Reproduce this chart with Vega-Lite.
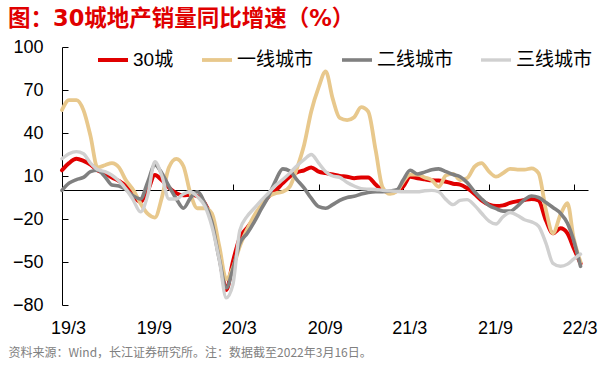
{
  "$schema": "https://vega.github.io/schema/vega-lite/v6.json",
  "width": 526,
  "height": 258,
  "autosize": "none",
  "padding": {"left": 62, "top": 47, "right": 24, "bottom": 64},
  "background": "white",
  "title": {
    "text": "图：30城地产销量同比增速（%）",
    "anchor": "start",
    "frame": "group",
    "dx": -54,
    "offset": 8,
    "fontSize": 22.5,
    "font": "DejaVu Sans, Noto Sans CJK SC",
    "fontWeight": "bold",
    "color": "#E00000"
  },
  "config": {"view": {"stroke": null}},
  "data": {
    "values": [
      {"d": "2019-03-01", "30城": 14, "一线城市": 56, "二线城市": 0, "三线城市": 22},
      {"d": "2019-03-16", "30城": 19, "一线城市": 63, "二线城市": 5, "三线城市": 25.5},
      {"d": "2019-04-01", "30城": 22, "一线城市": 63, "二线城市": 7.5, "三线城市": 27},
      {"d": "2019-04-16", "30城": 20.5, "一线城市": 56, "二线城市": 9, "三线城市": 25.5},
      {"d": "2019-05-01", "30城": 18, "一线城市": 38, "二线城市": 13, "三线城市": 19},
      {"d": "2019-05-16", "30城": 14, "一线城市": 16, "二线城市": 14, "三线城市": 14.5},
      {"d": "2019-06-01", "30城": 12, "一线城市": 17.5, "二线城市": 9.5, "三线城市": 13},
      {"d": "2019-06-16", "30城": 9, "一线城市": 19, "二线城市": 3.7, "三线城市": 10.5},
      {"d": "2019-07-01", "30城": 6.5, "一线城市": 16, "二线城市": 3, "三线城市": 6.5},
      {"d": "2019-07-16", "30城": 3, "一线城市": 7, "二线城市": 0.5, "三线城市": 1},
      {"d": "2019-08-01", "30城": -4, "一线城市": 0, "二线城市": -4, "三线城市": -7},
      {"d": "2019-08-16", "30城": -8, "一线城市": -9, "二线城市": -6, "三线城市": -15},
      {"d": "2019-09-01", "30城": 0, "一线城市": -16.5, "二线城市": 6, "三线城市": -3},
      {"d": "2019-09-16", "30城": 10.7, "一线城市": -19, "二线城市": 17.7, "三线城市": 20},
      {"d": "2019-10-01", "30城": 7, "一线城市": -5, "二线城市": 12, "三线城市": 10},
      {"d": "2019-10-16", "30城": 2, "一线城市": 16, "二线城市": 3, "三线城市": -6},
      {"d": "2019-11-01", "30城": -2, "一线城市": 22, "二线城市": -6, "三线城市": -6},
      {"d": "2019-11-16", "30城": -3.5, "一线城市": 17, "二线城市": -12.5, "三线城市": -2.5},
      {"d": "2019-12-01", "30城": -3, "一线城市": -2, "二线城市": -5.5, "三线城市": -1},
      {"d": "2019-12-16", "30城": -4, "一线城市": -12.5, "二线城市": -1, "三线城市": -4.4},
      {"d": "2020-01-01", "30城": -9, "一线城市": -12.5, "二线城市": -9, "三线城市": -11},
      {"d": "2020-01-16", "30城": -20, "一线城市": -16, "二线城市": -22, "三线城市": -25},
      {"d": "2020-02-01", "30城": -45, "一线城市": -39, "二线城市": -48, "三线城市": -48.6},
      {"d": "2020-02-16", "30城": -69.5, "一线城市": -62, "二线城市": -68, "三线城市": -75},
      {"d": "2020-03-01", "30城": -50, "一线城市": -54, "二线城市": -55, "三线城市": -66},
      {"d": "2020-03-16", "30城": -33, "一线城市": -39, "二线城市": -37, "三线城市": -28},
      {"d": "2020-04-01", "30城": -26, "一线城市": -27, "二线城市": -30, "三线城市": -18},
      {"d": "2020-04-16", "30城": -19.5, "一线城市": -17.5, "二线城市": -22, "三线城市": -12.5},
      {"d": "2020-05-01", "30城": -11, "一线城市": -10.5, "二线城市": -13, "三线城市": -7},
      {"d": "2020-05-16", "30城": -4.5, "一线城市": -4.4, "二线城市": -4.4, "三线城市": -2},
      {"d": "2020-06-01", "30城": 0, "一线城市": -2, "二线城市": 7, "三线城市": 3.5},
      {"d": "2020-06-16", "30城": 5, "一线城市": -1, "二线城市": 15, "三线城市": 7.5},
      {"d": "2020-07-01", "30城": 9.5, "一线城市": 2.6, "二线城市": 13.5, "三线城市": 12},
      {"d": "2020-07-16", "30城": 12.5, "一线城市": 15, "二线城市": 7.5, "三线城市": 17},
      {"d": "2020-08-01", "30城": 14, "一线城市": 32, "二线城市": 1.5, "三线城市": 21.5},
      {"d": "2020-08-16", "30城": 16, "一线城市": 55, "二线城市": -5.5, "三线城市": 25},
      {"d": "2020-09-01", "30城": 13, "一线城市": 72, "二线城市": -11.4, "三线城市": 19},
      {"d": "2020-09-16", "30城": 12, "一线城市": 83, "二线城市": -12.5, "三线城市": 13},
      {"d": "2020-10-01", "30城": 11, "一线城市": 64, "二线城市": -10, "三线城市": 10},
      {"d": "2020-10-16", "30城": 10, "一线城市": 50.5, "二线城市": -7, "三线城市": 9},
      {"d": "2020-11-01", "30城": 9.5, "一线城市": 49, "二线城市": -5, "三线城市": 5.5},
      {"d": "2020-11-16", "30城": 8.5, "一线城市": 51, "二线城市": -4.2, "三线城市": 3},
      {"d": "2020-12-01", "30城": 9, "一线城市": 58, "二线城市": -2.6, "三线城市": 1.2},
      {"d": "2020-12-16", "30城": 9, "一线城市": 55, "二线城市": -1.5, "三线城市": 0.8},
      {"d": "2021-01-01", "30城": 4, "一线城市": 28, "二线城市": -1, "三线城市": 0.6},
      {"d": "2021-01-16", "30城": 0, "一线城市": 2, "二线城市": -1, "三线城市": 0},
      {"d": "2021-02-01", "30城": -1, "一线城市": -2.5, "二线城市": -0.5, "三线城市": -0.4},
      {"d": "2021-02-16", "30城": -0.5, "一线城市": -0.5, "二线城市": 0.5, "三线城市": -0.8},
      {"d": "2021-03-01", "30城": 2.6, "一线城市": 6, "二线城市": 7.2, "三线城市": -1},
      {"d": "2021-03-16", "30城": 9.5, "一线城市": 11, "二线城市": 14, "三线城市": -1},
      {"d": "2021-04-01", "30城": 8.4, "一线城市": 11, "二线城市": 11.4, "三线城市": -1},
      {"d": "2021-04-16", "30城": 7.7, "一线城市": 9, "二线城市": 12.7, "三线城市": -0.3},
      {"d": "2021-05-01", "30城": 7, "一线城市": 7.2, "二线城市": 14.3, "三线城市": 0},
      {"d": "2021-05-16", "30城": 6.8, "一线城市": 2.5, "二线城市": 15, "三线城市": -1},
      {"d": "2021-06-01", "30城": 6, "一线城市": 10.5, "二线城市": 13, "三线城市": -6.5},
      {"d": "2021-06-16", "30城": 4.6, "一线城市": 11.5, "二线城市": 11, "三线城市": -10},
      {"d": "2021-07-01", "30城": 4, "一线城市": 7.2, "二线城市": 9.5, "三线城市": -7},
      {"d": "2021-07-16", "30城": 1.5, "一线城市": 8.5, "二线城市": 5.5, "三线城市": -6.5},
      {"d": "2021-08-01", "30城": -2.5, "一线城市": 16.5, "二线城市": -1, "三线城市": -10.5},
      {"d": "2021-08-16", "30城": -7, "一线城市": 19, "二线城市": -6, "三线城市": -16},
      {"d": "2021-09-01", "30城": -10, "一线城市": 13, "二线城市": -10.5, "三线城市": -21.5},
      {"d": "2021-09-16", "30城": -11, "一线城市": 9.5, "二线城市": -12.8, "三线城市": -23.5},
      {"d": "2021-10-01", "30城": -10.5, "一线城市": 12, "二线城市": -14.5, "三线城市": -18.4},
      {"d": "2021-10-16", "30城": -8.8, "一线城市": 15, "二线城市": -14.5, "三线城市": -15.5},
      {"d": "2021-11-01", "30城": -7.6, "一线城市": 14.5, "二线城市": -11, "三线城市": -17.5},
      {"d": "2021-11-16", "30城": -6.7, "一线城市": 14.5, "二线城市": -6.5, "三线城市": -20.5},
      {"d": "2021-12-01", "30城": -6, "一线城市": 15.3, "二线城市": -4, "三线城市": -22},
      {"d": "2021-12-16", "30城": -7, "一线城市": 12, "二线城市": -5, "三线城市": -25},
      {"d": "2022-01-01", "30城": -21, "一线城市": -14, "二线城市": -8.5, "三线城市": -37},
      {"d": "2022-01-16", "30城": -30, "一线城市": -30, "二线城市": -12, "三线城市": -51},
      {"d": "2022-02-01", "30城": -26.5, "一线城市": -17, "二线城市": -16, "三线城市": -53},
      {"d": "2022-02-16", "30城": -30, "一线城市": -9, "二线城市": -23, "三线城市": -51.5},
      {"d": "2022-03-01", "30城": -40, "一线城市": -33, "二线城市": -34.7, "三线城市": -48},
      {"d": "2022-03-16", "30城": -51, "一线城市": -50, "二线城市": -53, "三线城市": -44.5}
    ]
  },
  "transform": [
    {"fold": ["30城", "一线城市", "二线城市", "三线城市"], "as": ["series", "value"]}
  ],
  "mark": {"type": "line", "interpolate": "monotone", "strokeCap": "round", "strokeJoin": "round"},
  "encoding": {
    "x": {
      "field": "d",
      "type": "temporal",
      "scale": {
        "type": "utc",
        "domain": [
          {"year": 2019, "month": 3, "date": 1, "utc": true},
          {"year": 2022, "month": 4, "date": 1, "utc": true}
        ]
      },
      "axis": {
        "values": [
          {"year": 2019, "month": 3, "date": 1, "utc": true},
          {"year": 2019, "month": 9, "date": 1, "utc": true},
          {"year": 2020, "month": 3, "date": 1, "utc": true},
          {"year": 2020, "month": 9, "date": 1, "utc": true},
          {"year": 2021, "month": 3, "date": 1, "utc": true},
          {"year": 2021, "month": 9, "date": 1, "utc": true},
          {"year": 2022, "month": 3, "date": 1, "utc": true}
        ],
        "format": "%y/%-m",
        "offset": -115,
        "tickSize": -6,
        "labelPadding": 135,
        "labelOffset": 6,
        "labelFlush": false,
        "labelFont": "Liberation Sans",
        "labelFontSize": 18,
        "labelColor": "#000000",
        "labelBaseline": "top",
        "domainColor": "#000000",
        "tickColor": "#000000",
        "grid": false,
        "title": "资料来源：Wind，长江证券研究所。注：数据截至2022年3月16日。",
        "titleFont": "Noto Sans CJK SC",
        "titleFontSize": 12,
        "titleFontWeight": "normal",
        "titleColor": "#808080",
        "titleAlign": "left",
        "titleBaseline": "middle",
        "titleX": -54,
        "titleY": 162
      }
    },
    "y": {
      "field": "value",
      "type": "quantitative",
      "scale": {"domain": [-80, 100], "nice": false, "zero": false},
      "axis": {
        "values": [-80, -50, -20, 10, 40, 70, 100],
        "tickSize": -6,
        "labelPadding": 25,
        "labelFont": "Liberation Sans",
        "labelFontSize": 18,
        "labelColor": "#000000",
        "domainColor": "#000000",
        "tickColor": "#000000",
        "grid": false,
        "title": null
      }
    },
    "color": {
      "field": "series",
      "type": "nominal",
      "scale": {
        "domain": ["30城", "一线城市", "二线城市", "三线城市"],
        "range": ["#E00000", "#E8C88C", "#808080", "#D0D0D0"]
      },
      "legend": {
        "orient": "none",
        "legendX": 34,
        "legendY": -4,
        "direction": "horizontal",
        "title": null,
        "symbolType": "stroke",
        "symbolSize": 900,
        "symbolStrokeWidth": 5,
        "labelFont": "Liberation Sans, Noto Sans CJK SC",
        "labelFontSize": 19,
        "labelColor": "#000000",
        "labelOffset": 3,
        "columnPadding": 20,
        "padding": 0
      }
    },
    "strokeWidth": {
      "field": "series",
      "type": "nominal",
      "scale": {"domain": ["30城", "一线城市", "二线城市", "三线城市"], "range": [4, 3.4, 3.4, 3.4]},
      "legend": null
    }
  }
}
